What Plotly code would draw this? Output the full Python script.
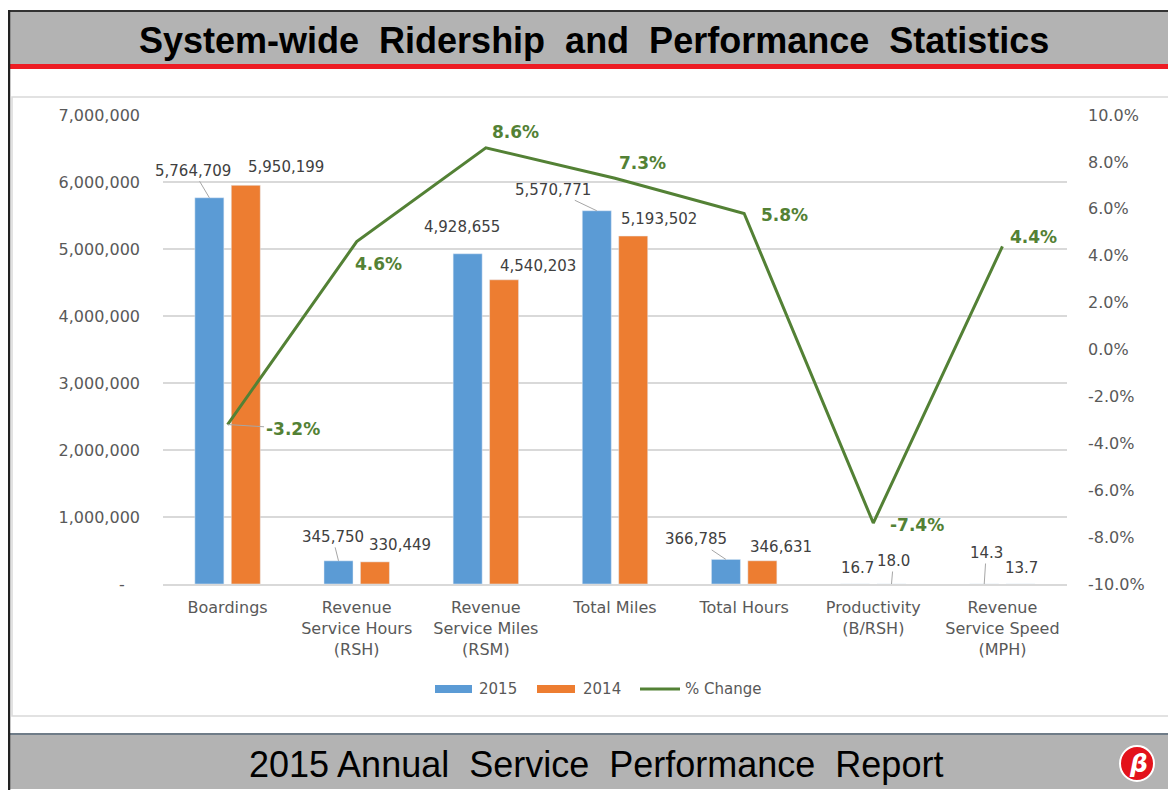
import plotly.graph_objects as go

# the page body adds an 8px margin, so the figure is 8px smaller and shifted
W, H = 1176, 790
OFF = 8
FW, FH = W - OFF, H - OFF

# chart data
categories = ["Boardings", "Revenue<br>Service Hours<br>(RSH)", "Revenue<br>Service Miles<br>(RSM)",
              "Total Miles", "Total Hours", "Productivity<br>(B/RSH)", "Revenue<br>Service Speed<br>(MPH)"]
values_2015 = [5764709, 345750, 4928655, 5570771, 366785, 16.7, 14.3]
values_2014 = [5950199, 330449, 4540203, 5193502, 346631, 18.0, 13.7]
pct_change = [-3.2, 4.6, 8.6, 7.3, 5.8, -7.4, 4.4]
series_names = ["2015", "2014", "% Change"]

left_ticks = [0, 1000000, 2000000, 3000000, 4000000, 5000000, 6000000, 7000000]
right_ticks = [-10, -8, -6, -4, -2, 0, 2, 4, 6, 8, 10]

# label placement (screen px offsets from the bar top / line point), leader line flag
off_2015 = [(-16, -27, True), (-6, -24, True), (-6, -27, False), (-44, -21, True),
            (-30, -20, True), (2, -16, False), (2, -31, True)]
off_2014 = [(40, -18, False), (25, -17, False), (34, -14, False), (26, -17, False),
            (19, -14, False), (2, -23, True), (1, -16, False)]
off_pct = [(65, 4, True), (22, 22, False), (30, -16, False), (27, -15, False),
           (40, 2, False), (44, 2, False), (31, -9, False)]

BLUE = "#5B9BD5"
ORANGE = "#ED7D31"
GREEN = "#538135"
GRID = "#D9D9D9"
TXT = "#595959"


def fmt(v):
    return f"{v:,.0f}" if v >= 1000 else f"{v:.1f}"


def px_x(x):
    return (x - OFF) / FW


def px_y(y):
    return 1 - (y - OFF) / FH


fig = go.Figure()
fig.add_trace(go.Bar(x=categories, y=values_2015, name=series_names[0], marker_color=BLUE))
fig.add_trace(go.Bar(x=categories, y=values_2014, name=series_names[1], marker_color=ORANGE))
fig.add_trace(go.Scatter(x=categories, y=pct_change, name=series_names[2], mode="lines",
                         line=dict(color=GREEN, width=3), yaxis="y2"))

annotations = []
slot = (1 - 0.436) / 2
for series, offs, shift in ((values_2015, off_2015, -slot / 2), (values_2014, off_2014, slot / 2)):
    for i, v in enumerate(series):
        dx, dy, leader = offs[i]
        a = dict(x=i + shift, y=v, xref="x", yref="y", text=fmt(v),
                 font=dict(size=15, color="#404040"))
        if leader:
            a.update(showarrow=True, ax=dx, ay=dy, arrowhead=0, arrowwidth=1,
                     arrowcolor="#A6A6A6", standoff=0)
        else:
            a.update(showarrow=False, xshift=dx, yshift=-dy)
        annotations.append(a)

for i, v in enumerate(pct_change):
    dx, dy, leader = off_pct[i]
    a = dict(x=i, y=v, xref="x", yref="y2", text=f"{v:.1f}%",
             font=dict(size=17, color=GREEN, weight="bold"))
    if leader:
        a.update(showarrow=True, ax=dx, ay=dy, arrowhead=0, arrowwidth=1,
                 arrowcolor="#A6A6A6", standoff=0)
    else:
        a.update(showarrow=False, xshift=dx, yshift=-dy)
    annotations.append(a)

# legend (Excel style wide keys)
legend_x = [(435, 477), (537, 581), (640, 683)]
for name, (kx, tx) in zip(series_names, legend_x):
    annotations.append(dict(x=px_x(tx), y=px_y(689), xref="paper", yref="paper", showarrow=False,
                            xanchor="left", yanchor="middle", text=name,
                            font=dict(size=15, color=TXT)))

# header / footer text
annotations.append(dict(x=px_x(594), y=px_y(40), xref="paper", yref="paper", showarrow=False,
                        xanchor="center", yanchor="middle",
                        text="System-wide  Ridership  and  Performance  Statistics",
                        font=dict(family="Liberation Sans", size=36, color="black", weight="bold")))
annotations.append(dict(x=px_x(596), y=px_y(764), xref="paper", yref="paper", showarrow=False,
                        xanchor="center", yanchor="middle",
                        text="2015 Annual  Service  Performance  Report",
                        font=dict(family="Liberation Sans", size=36, color="black")))
annotations.append(dict(x=px_x(1138), y=px_y(763), xref="paper", yref="paper", showarrow=False,
                        xanchor="center", yanchor="middle",
                        text="<i>β</i>", font=dict(family="DejaVu Sans", size=25, color="white",
                                                    weight="bold")))

shapes = [
    # header band
    dict(type="rect", xref="paper", yref="paper", x0=0, x1=1, y0=px_y(64), y1=px_y(12),
         fillcolor="#B3B3B3", line_width=0, layer="below"),
    dict(type="line", xref="paper", yref="paper", x0=0, x1=1, y0=px_y(11), y1=px_y(11),
         line=dict(color="#333333", width=2)),
    dict(type="rect", xref="paper", yref="paper", x0=0, x1=1, y0=px_y(69), y1=px_y(64),
         fillcolor="#ED1C24", line_width=0),
    # chart frame
    dict(type="rect", xref="paper", yref="paper", x0=px_x(12), x1=px_x(1169), y0=px_y(716), y1=px_y(97),
         line=dict(color="#D9D9D9", width=1.5), layer="below"),
    # footer band
    dict(type="rect", xref="paper", yref="paper", x0=0, x1=1, y0=px_y(789), y1=px_y(735),
         fillcolor="#B3B3B3", line_width=0, layer="below"),
    dict(type="line", xref="paper", yref="paper", x0=0, x1=1, y0=px_y(734), y1=px_y(734),
         line=dict(color="#6F7C88", width=2)),
    # left frame edge
    dict(type="line", xref="paper", yref="paper", x0=px_x(9), x1=px_x(9), y0=0, y1=px_y(10),
         line=dict(color="#222222", width=2.5)),
    # logo
    dict(type="circle", xref="paper", yref="paper", x0=px_x(1120), x1=px_x(1154), y0=px_y(781), y1=px_y(746),
         fillcolor="#E3121B", line=dict(color="white", width=2)),
    # legend keys
    dict(type="rect", xref="paper", yref="paper", x0=px_x(435), x1=px_x(472), y0=px_y(693), y1=px_y(685),
         fillcolor=BLUE, line_width=0),
    dict(type="rect", xref="paper", yref="paper", x0=px_x(537), x1=px_x(575), y0=px_y(693), y1=px_y(685),
         fillcolor=ORANGE, line_width=0),
    dict(type="line", xref="paper", yref="paper", x0=px_x(640), x1=px_x(680), y0=px_y(689), y1=px_y(689),
         line=dict(color=GREEN, width=3)),
]

fig.update_layout(
    width=FW, height=FH,
    margin=dict(l=0, r=0, t=0, b=0, pad=0, autoexpand=False),
    paper_bgcolor="white", plot_bgcolor="white",
    font=dict(family="DejaVu Sans", size=16, color=TXT),
    barmode="group", bargap=0.436, bargroupgap=0.203,
    showlegend=False,
    xaxis=dict(domain=[px_x(163), px_x(1067)], type="category", range=[-0.5, 6.5],
               showgrid=False, automargin=False,
               showline=True, linecolor=GRID, linewidth=1.5, ticks="", ticklabelstandoff=8,
               tickfont=dict(size=16, color=TXT)),
    yaxis=dict(domain=[px_y(584), px_y(115)], range=[0, 7000000], tickvals=left_ticks,
               ticktext=["-\u00a0\u00a0\u00a0"] + [f"{t:,}" for t in left_ticks[1:]],
               showgrid=True, gridcolor=GRID, gridwidth=1.5, zeroline=False, showline=False,
               automargin=False, ticklabelstandoff=22, tickfont=dict(size=16, color=TXT)),
    yaxis2=dict(overlaying="y", side="right", anchor="x", range=[-10, 10], tickvals=right_ticks,
                ticktext=[f"{t:.1f}%" for t in right_ticks], showgrid=False, zeroline=False,
                showline=False, automargin=False, ticklabelstandoff=20,
                tickfont=dict(size=16, color=TXT)),
    annotations=annotations,
    shapes=shapes,
)

fig.write_html("out.html")
